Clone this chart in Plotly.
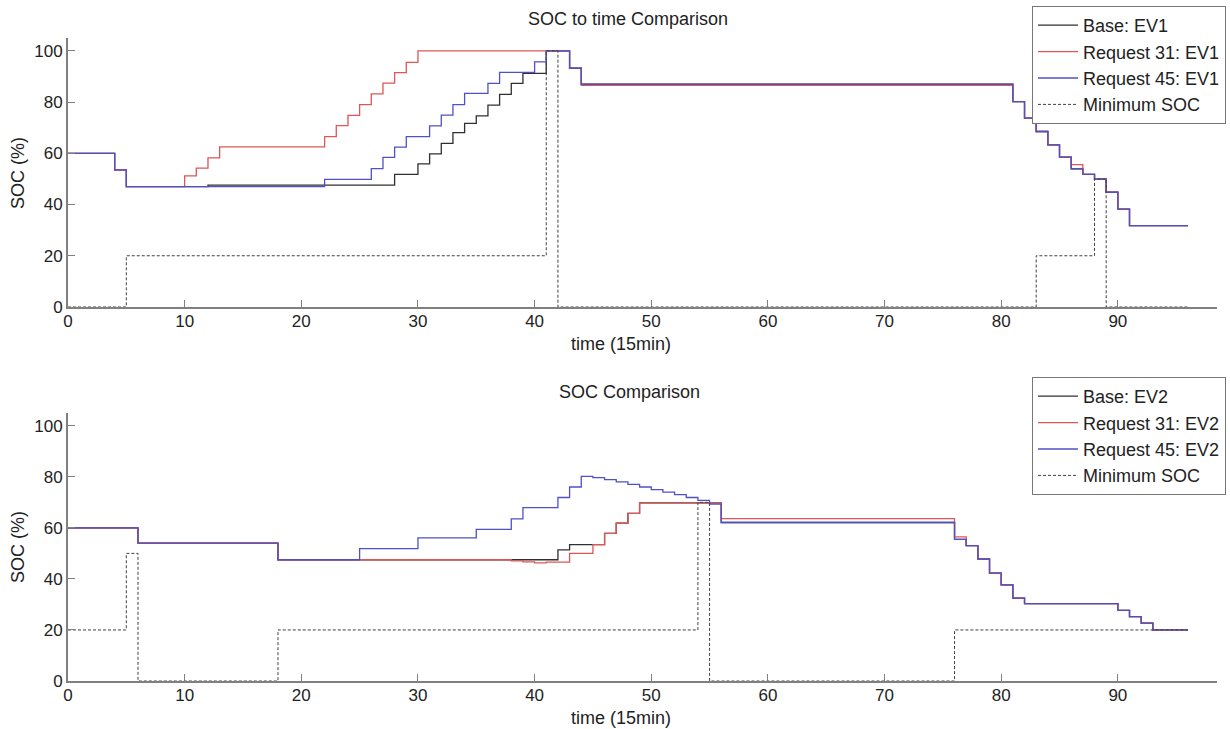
import plotly.graph_objects as go

# ---------------- Data (stairs: breakpoint time, level held until next breakpoint) ----------------
# EV1 (top chart)
base1_t = [0, 4, 5, 12, 28, 30, 31, 32, 33, 34, 35, 36, 37, 38, 39, 41, 43, 44, 81, 82, 83, 84, 85, 86, 87, 88, 89, 90, 91, 96]
base1_v = [60, 53.5, 47, 47.6, 51.8, 55.9, 59.8, 63.9, 68.1, 71.7, 74.6, 78.8, 83.0, 87.3, 91.2, 100, 93.2, 87, 80.2, 73.7, 68.5, 63.3, 58.5, 53.9, 51.8, 49.9, 44.8, 38.2, 31.8, 31.8]

req31_1_t = [0, 4, 5, 10, 11, 12, 13, 22, 23, 24, 25, 26, 27, 28, 29, 30, 43, 44, 81, 82, 83, 84, 85, 86, 87, 88, 89, 90, 91, 96]
req31_1_v = [60, 53.5, 47, 51.2, 54.2, 58.2, 62.5, 66.5, 70.8, 74.8, 79.0, 83.2, 87.4, 91.5, 95.5, 100, 93.2, 86.5, 80.2, 73.7, 68.5, 63.3, 58.5, 55.6, 51.8, 49.9, 44.8, 38.2, 31.8, 31.8]

req45_1_t = [0, 4, 5, 22, 26, 27, 28, 29, 31, 32, 33, 34, 36, 37, 40, 41, 43, 44, 81, 82, 83, 84, 85, 86, 87, 88, 89, 90, 91, 96]
req45_1_v = [60, 53.5, 47, 49.8, 54.0, 58.4, 62.4, 66.5, 70.7, 74.9, 79.0, 83.4, 87.3, 91.6, 95.7, 100, 93.2, 87, 80.2, 73.7, 68.5, 63.3, 58.5, 53.9, 51.8, 49.9, 44.8, 38.2, 31.8, 31.8]

min1_t = [0, 5, 41, 42, 83, 88, 89, 96]
min1_v = [0, 20, 100, 0, 20, 50, 0, 0]

# EV2 (bottom chart)
base2_t = [0, 6, 18, 42, 43, 46, 47, 48, 49, 56, 76, 77, 78, 79, 80, 81, 82, 90, 91, 92, 93, 96]
base2_v = [60, 54, 47.5, 51.4, 53.4, 57.8, 61.8, 65.7, 69.8, 62.1, 55.5, 53, 47.8, 42.3, 37.7, 32.5, 30.3, 27.7, 25.2, 22.7, 20, 20]

req31_2_t = [0, 6, 18, 38, 39, 40, 41, 43, 45, 46, 47, 48, 49, 56, 76, 77, 78, 79, 80, 81, 82, 90, 91, 92, 93, 96]
req31_2_v = [60, 54, 47.5, 47.1, 46.7, 46.3, 46.6, 50.0, 53.4, 57.8, 61.8, 65.7, 69.8, 63.6, 56.5, 53, 47.8, 42.3, 37.7, 32.5, 30.3, 27.7, 25.2, 22.7, 20, 20]

req45_2_t = [0, 6, 18, 25, 30, 35, 38, 39, 42, 43, 44, 45, 46, 47, 48, 49, 50, 51, 52, 53, 54, 55, 56, 76, 77, 78, 79, 80, 81, 82, 90, 91, 92, 93, 96]
req45_2_v = [60, 54, 47.5, 51.9, 56.1, 59.4, 63.5, 67.9, 71.9, 76.0, 80.2, 79.7, 78.9, 78.0, 77.0, 76.0, 75.0, 74.0, 73.0, 71.9, 70.8, 69.3, 62.1, 55.5, 53, 47.8, 42.3, 37.7, 32.5, 30.3, 27.7, 25.2, 22.7, 20, 20]

min2_t = [0, 5, 6, 18, 54, 55, 76, 96]
min2_v = [20, 50, 0, 20, 70, 0, 20, 20]

x_ticks = [0, 10, 20, 30, 40, 50, 60, 70, 80, 90]
y_ticks = [0, 20, 40, 60, 80, 100]

# ---------------- Styling ----------------
W, H = 1230, 729
FONT = "Liberation Sans, Arial, sans-serif"
FS = 18
TFS = 17
C_BLACK = "#303030"
C_RED = "#e05555"
C_BLUE = "#5050c8"
C_DASH = "#404040"
AXC = "#808080"

fig = go.Figure()

def add_series(t, v, name, color, xa, ya, leg, dash="solid", width=1.3):
    fig.add_trace(go.Scatter(x=t, y=v, mode="lines", name=name,
                             line=dict(color=color, width=width, dash=dash, shape="hv"),
                             xaxis=xa, yaxis=ya, legend=leg))

add_series(base1_t, base1_v, "Base: EV1", C_BLACK, "x", "y", "legend")
add_series(req31_1_t, req31_1_v, "Request 31: EV1", C_RED, "x", "y", "legend")
add_series(req45_1_t, req45_1_v, "Request 45: EV1", C_BLUE, "x", "y", "legend")
add_series(min1_t, min1_v, "Minimum SOC", C_DASH, "x", "y", "legend", dash="3px,2px", width=1)

add_series(base2_t, base2_v, "Base: EV2", C_BLACK, "x2", "y2", "legend2")
add_series(req31_2_t, req31_2_v, "Request 31: EV2", C_RED, "x2", "y2", "legend2")
add_series(req45_2_t, req45_2_v, "Request 45: EV2", C_BLUE, "x2", "y2", "legend2")
add_series(min2_t, min2_v, "Minimum SOC", C_DASH, "x2", "y2", "legend2", dash="3px,2px", width=1)

L, R = 68, 1217
top_y = (38, 307)
bot_y = (413, 681)

def px_x(p):
    return p / W

def px_y(p):
    return 1 - p / H

axis_common = dict(showgrid=False, zeroline=False, showline=True, linecolor=AXC, linewidth=1.8,
                   ticks="inside", ticklen=7, tickcolor=AXC, tickwidth=1.2, automargin=False,
                   tickfont=dict(family=FONT, size=TFS, color="#222"), mirror=False)

xrange = [0, 98.5]
yrange = [0, 105]

leg_common = dict(xanchor="right", yanchor="top", bgcolor="white", bordercolor="#777", borderwidth=1,
                  font=dict(family=FONT, size=FS, color="#222"), itemwidth=40, tracegroupgap=0)

fig.update_layout(
    width=W, height=H, margin=dict(l=0, r=0, t=0, b=0, pad=0, autoexpand=False),
    paper_bgcolor="white", plot_bgcolor="white",
    font=dict(family=FONT, size=FS, color="#222"),
    xaxis=dict(domain=[px_x(L), px_x(R)], range=xrange, tickvals=x_ticks, anchor="y",
               ticklabelstandoff=-2, **axis_common),
    yaxis=dict(domain=[px_y(top_y[1]), px_y(top_y[0])], range=yrange, tickvals=y_ticks, anchor="x", **axis_common),
    xaxis2=dict(domain=[px_x(L), px_x(R)], range=xrange, tickvals=x_ticks, anchor="y2",
                ticklabelstandoff=-2, **axis_common),
    yaxis2=dict(domain=[px_y(bot_y[1]), px_y(bot_y[0])], range=yrange, tickvals=y_ticks, anchor="x2", **axis_common),
    legend=dict(x=px_x(1226), y=px_y(6), **leg_common),
    legend2=dict(x=px_x(1226), y=px_y(377), **leg_common),
    showlegend=True,
)

ann = []
def text(xp, yp, s, rot=0, yanchor="middle"):
    ann.append(dict(x=px_x(xp), y=px_y(yp), xref="paper", yref="paper", text=s, showarrow=False,
                    xanchor="center", yanchor=yanchor, textangle=rot,
                    font=dict(family=FONT, size=FS, color="#222")))

text(628, 19, "SOC to time Comparison")
text(621, 344, "time (15min)")
text(18, 173, "SOC (%)", rot=-90)
text(629, 392, "SOC Comparison")
text(621, 718, "time (15min)")
text(18, 547, "SOC (%)", rot=-90)
fig.update_layout(annotations=ann)

fig.write_html("out.html")
